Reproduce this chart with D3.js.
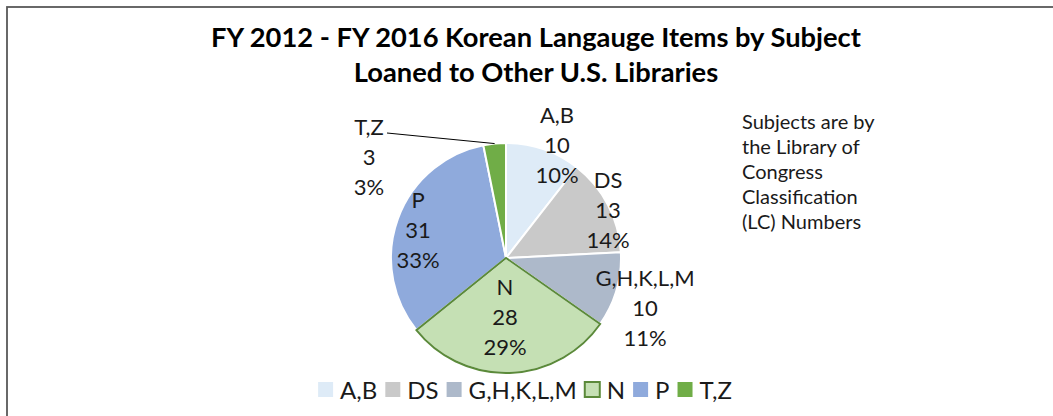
<!DOCTYPE html>
<html>
<head>
<meta charset="utf-8">
<script src="https://cdn.jsdelivr.net/npm/d3@7"></script>
<style>
  body { margin: 0; background: #fff; }
  svg { display: block; font-family: Lato, "Open Sans", sans-serif; }
</style>
</head>
<body>
<div id="chart"></div>
<script>
// data
var subjects = ["A,B", "DS", "G,H,K,L,M", "N", "P", "T,Z"];
var counts = [10, 13, 10, 28, 31, 3];
var pctLabels = ["10%", "14%", "11%", "29%", "33%", "3%"];
var colors = ["#deebf7", "#c9c9c9", "#adb9ca", "#c5e0b4", "#8faadc", "#70ad47"];
var titleLines = ["FY 2012 - FY 2016 Korean Langauge Items by Subject", "Loaned to Other U.S. Libraries"];
var noteLines = ["Subjects are by", "the Library of", "Congress", "Classification", "(LC) Numbers"];

var width = 1053, height = 416;
var cx = 506, cy = 258, radius = 115;

// where each data label sits, relative to pie centre (middle line of the label)
var labelAt = [[51, -113], [102, -48], [139, 50], [-1, 59], [-88, -28], [-137, -101]];

var svg = d3.select("#chart").append("svg")
    .attr("width", width)
    .attr("height", height);

// chart frame
svg.append("rect")
    .attr("x", 7).attr("y", 7)
    .attr("width", 1070).attr("height", 430)
    .attr("fill", "none")
    .attr("stroke", "#595959")
    .attr("stroke-width", 1.8);

// title
svg.append("g").selectAll("text")
    .data(titleLines)
    .join("text")
    .attr("x", 536)
    .attr("y", function (d, i) { return 47 + i * 35; })
    .attr("text-anchor", "middle")
    .attr("font-size", 27.3)
    .attr("font-weight", "bold")
    .attr("fill", "#000")
    .text(function (d) { return d; });

var pie = d3.pie().sort(null).value(function (d) { return d; });
var arcs = pie(counts);
var arc = d3.arc().innerRadius(0).outerRadius(radius);

var g = svg.append("g").attr("transform", "translate(" + cx + "," + cy + ")");

g.selectAll("path.slice")
    .data(arcs)
    .join("path")
    .attr("class", "slice")
    .attr("d", arc)
    .attr("fill", function (d, i) { return colors[i]; })
    .attr("stroke", "#fff")
    .attr("stroke-width", 2);

// N slice is outlined in dark green
g.append("path")
    .attr("d", arc(arcs[3]))
    .attr("fill", "none")
    .attr("stroke", "#5b8a3a")
    .attr("stroke-width", 2);

// leader line for T,Z
var tz = arcs[5];
var mid = (tz.startAngle + tz.endAngle) / 2;
var edge = [Math.sin(mid) * radius, -Math.cos(mid) * radius];
g.append("path")
    .attr("d", d3.line()([[labelAt[5][0] + 18, labelAt[5][1] - 24], edge]))
    .attr("stroke", "#000")
    .attr("stroke-width", 1)
    .attr("fill", "none");

// data labels: name, count, percent
var labelG = g.selectAll("g.lab")
    .data(arcs)
    .join("g")
    .attr("class", "lab")
    .attr("transform", function (d, i) { return "translate(" + labelAt[i][0] + "," + labelAt[i][1] + ")"; });

labelG.selectAll("text")
    .data(function (d, i) { return [subjects[i], String(counts[i]), pctLabels[i]]; })
    .join("text")
    .attr("x", 0)
    .attr("y", function (d, j) { return (j - 1) * 30 + 8; })
    .attr("text-anchor", "middle")
    .attr("font-size", 22)
    .attr("fill", "#1a1a1a")
    .text(function (d) { return d; });

// note on the right
svg.append("g").selectAll("text")
    .data(noteLines)
    .join("text")
    .attr("x", 742)
    .attr("y", function (d, i) { return 129 + i * 25; })
    .attr("font-size", 20)
    .attr("fill", "#1a1a1a")
    .text(function (d) { return d; });

// legend, laid out by measured text widths and centred
var legend = svg.append("g");
var items = legend.selectAll("g")
    .data(subjects)
    .join("g");
items.append("rect")
    .attr("width", 15).attr("height", 15)
    .attr("y", -8)
    .attr("fill", function (d, i) { return colors[i]; })
    .attr("stroke", function (d, i) { return i === 3 ? "#5b8a3a" : "none"; })
    .attr("stroke-width", 2);
items.append("text")
    .attr("x", 22)
    .attr("y", 8.5)
    .attr("font-size", 24)
    .attr("fill", "#1a1a1a")
    .text(function (d) { return d; });

var xpos = 0;
items.each(function () {
    var el = d3.select(this);
    el.attr("transform", "translate(" + xpos + ",0)");
    xpos += 22 + el.select("text").node().getComputedTextLength() + 8;
});
var total = xpos - 8;
legend.attr("transform", "translate(" + (525 - total / 2) + ",390)");
</script>
</body>
</html>
